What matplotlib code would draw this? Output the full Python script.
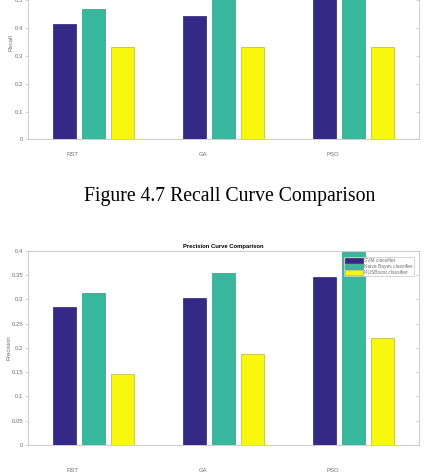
import matplotlib
matplotlib.use('Agg')
import matplotlib.pyplot as plt
import matplotlib.transforms as mtransforms
import numpy as np

# data
groups = ['RST', 'GA', 'PSO']
series = ['SVM classifier', 'Naive Bayes classifier', 'RUSBoost classifier']
recall_svm = [0.413, 0.443, 0.60]
recall_nb = [0.470, 0.55, 0.60]
recall_rus = [0.333, 0.333, 0.333]
prec_svm = [0.285, 0.303, 0.346]
prec_nb = [0.312, 0.355, 0.397]
prec_rus = [0.147, 0.187, 0.220]
recall_ticks = [0, 0.1, 0.2, 0.3, 0.4, 0.5]
prec_ticks = [0, 0.05, 0.1, 0.15, 0.2, 0.25, 0.3, 0.35, 0.4]

colors = ['#342a86', '#37b79c', '#f8f80f']
edges = ['#2a2270', '#2e9c84', '#b5b43a']
axis_col = '#c4c4c4'
lab_col = '#6e6e6e'
W, H = 426, 476
AX_W = 390.4

plt.rcParams['font.family'] = ['Liberation Sans', 'DejaVu Sans']
fig = plt.figure(figsize=(W/100, H/100), dpi=100)


def draw_bars(rect, vals, ylim, yticks, ylabel, ylab_xy, xlab_y):
    ax = fig.add_axes(rect)
    x = np.arange(1, len(groups)+1)
    for i, v in enumerate(vals):
        ax.bar(x + (i-1)*0.223, v, width=0.177, color=colors[i],
               edgecolor=edges[i], linewidth=0.5, label=series[i])
    ax.set_xlim(0.5, 3.5)
    ax.set_ylim(*ylim)
    ax.set_xticks([])
    ax.set_yticks(yticks)
    ax.set_yticklabels(['%g' % t for t in yticks], fontsize=4.3, color=lab_col)
    ax.tick_params(axis='y', direction='out', length=2, width=0.5,
                   color=axis_col, pad=1.5)
    for s in ax.spines.values():
        s.set_color(axis_col)
        s.set_linewidth(0.6)
    # right side ticks point inward
    ax2 = ax.twinx()
    ax2.set_ylim(*ylim)
    ax2.set_yticks(yticks)
    ax2.set_yticklabels([])
    ax2.tick_params(axis='y', direction='in', length=2, width=0.5, color=axis_col)
    for s in ax2.spines.values():
        s.set_visible(False)
    ax.set_ylabel(ylabel, fontsize=4.3, color=lab_col)
    ax.yaxis.set_label_coords(*ylab_xy)
    trans = mtransforms.blended_transform_factory(ax.transData, fig.transFigure)
    for g, xi in zip(groups, x):
        fig.text(xi - 0.16, xlab_y, g, fontsize=4.3, color=lab_col,
                 ha='center', va='center', transform=trans)
    return ax


# top chart (its top runs off the page)
top = draw_bars([28.3/W, 1-139.3/H, AX_W/W, 166.8/H],
                [recall_svm, recall_nb, recall_rus], (0, 0.6),
                recall_ticks, 'Recall', ((13.5-28.3)/AX_W, (139.3-43)/166.8),
                1-154/H)

fig.text(230/W, 1-197/H, 'Figure 4.7 Recall Curve Comparison',
         fontsize=14.2, family='Liberation Serif', ha='center', va='center')

# bottom chart
bot = draw_bars([28.3/W, 1-445/H, AX_W/W, 194.3/H],
                [prec_svm, prec_nb, prec_rus], (0, 0.4),
                prec_ticks, 'Precision', ((11.5-28.3)/AX_W, 0.5),
                1-470/H)
bot.set_title('Precision Curve Comparison', fontsize=4.2, fontweight='bold',
              pad=2)
leg = bot.legend(loc='upper right', bbox_to_anchor=(1-4.7/AX_W, 1-6/194.3),
                 fontsize=3.5, handlelength=3.6, handleheight=1.1,
                 labelspacing=0.2, borderpad=0.25, handletextpad=0.3,
                 borderaxespad=0, fancybox=False, framealpha=1)
leg.get_frame().set_edgecolor(axis_col)
leg.get_frame().set_linewidth(0.5)
for t in leg.get_texts():
    t.set_color(lab_col)

fig.savefig('out.png', dpi=100)
